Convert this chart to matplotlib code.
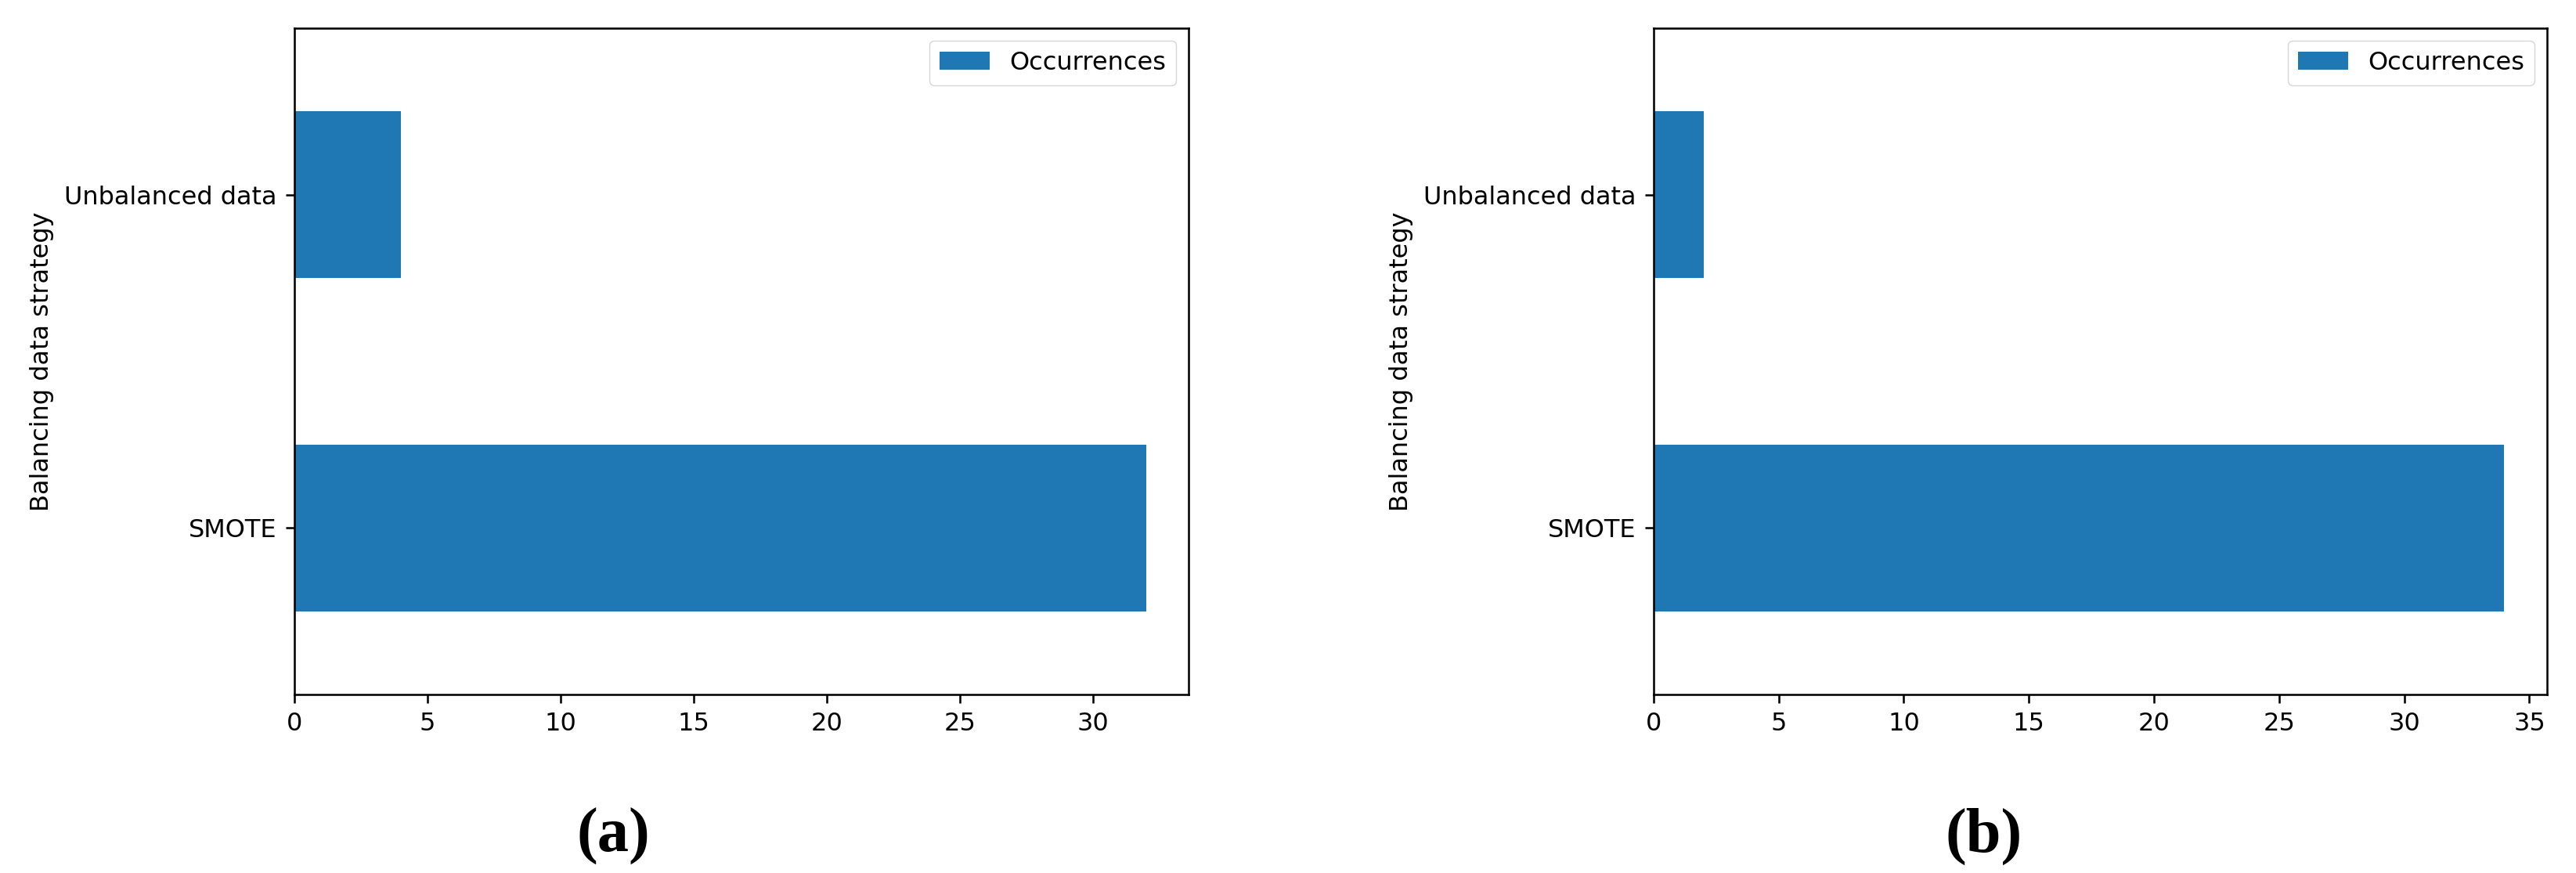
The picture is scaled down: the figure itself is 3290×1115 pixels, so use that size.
import matplotlib
matplotlib.use('Agg')
import matplotlib.pyplot as plt

# Data
strategies = ['SMOTE', 'Unbalanced data']
occurrences_a = [32, 4]
occurrences_b = [34, 2]
captions = ['(a)', '(b)']

SCALE = 2.3
plt.rcParams.update({
    'font.size': 10 * SCALE,
    'axes.linewidth': 0.8 * SCALE,
    'xtick.major.size': 3.5 * SCALE,
    'ytick.major.size': 3.5 * SCALE,
    'xtick.major.width': 0.8 * SCALE,
    'ytick.major.width': 0.8 * SCALE,
    'xtick.major.pad': 3.5 * SCALE,
    'ytick.major.pad': 3.5 * SCALE,
    'axes.labelpad': 4 * SCALE,
})


def draw_panel(ax, values):
    ax.barh(range(len(strategies)), values, height=0.5, color='#1f77b4',
            label='Occurrences')
    ax.set_yticks(range(len(strategies)))
    ax.set_yticklabels(strategies)
    ax.set_ylim(-0.5, len(strategies) - 0.5)
    ax.set_ylabel('Balancing data strategy')
    ax.legend(loc='upper right')


fig = plt.figure(figsize=(32.9, 11.15), dpi=100)
ax_a = fig.add_axes([0.1143, 0.2045, 0.3471, 0.7632])
ax_b = fig.add_axes([0.6419, 0.2045, 0.3468, 0.7632])

draw_panel(ax_a, occurrences_a)
draw_panel(ax_b, occurrences_b)

for xpos, text in zip([0.238, 0.770], captions):
    fig.text(xpos, 0.042, text, ha='center', va='center',
             family='Liberation Serif', weight='bold', fontsize=58)

fig.savefig('out.png', dpi=100)
